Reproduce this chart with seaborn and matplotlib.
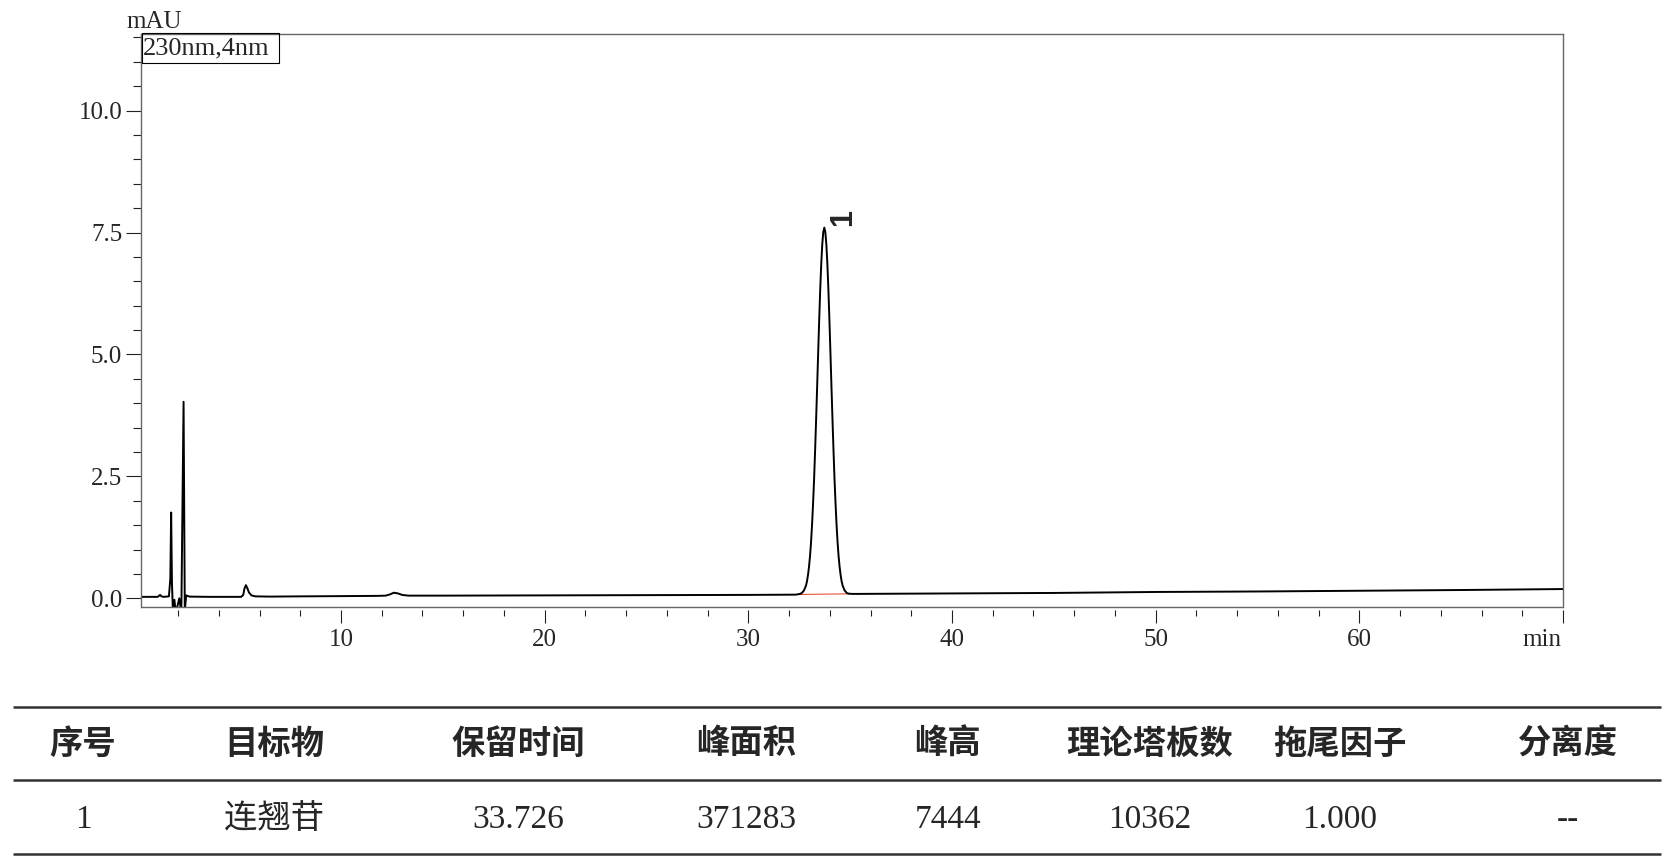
import numpy as np
import pandas as pd
import matplotlib
matplotlib.use('Agg')
import matplotlib.pyplot as plt
from matplotlib.ticker import FixedLocator, MultipleLocator
from matplotlib.patches import Rectangle
import seaborn as sns

# 色谱图 (时间 min, 吸光度 mAU) - 从图上读取
early_t = [0.17, 1.00, 1.06, 1.12, 1.18, 1.30, 1.55, 1.62, 1.66, 1.70, 1.75, 1.82, 1.89,
           2.06, 2.16, 2.27, 2.33, 2.40, 2.46, 2.56, 3.50, 4.50]
early_v = [0.03, 0.03, 0.05, 0.07, 0.04, 0.03, 0.04, 0.40, 1.76, 0.30, -0.30, -0.03, -0.30,
           0.00, -0.30, 4.03, -0.25, 0.06, 0.05, 0.035, 0.03, 0.03]

mid_t = [5.10, 5.20, 5.26, 5.33, 5.40, 5.48, 5.60, 5.80, 6.50, 8.00, 10.0, 11.8,
         12.2, 12.4, 12.6, 12.8, 13.0, 13.3, 15.0, 20.0, 25.0, 30.0]
mid_v = [0.03, 0.07, 0.20, 0.27, 0.21, 0.12, 0.06, 0.04, 0.035, 0.04, 0.045, 0.05,
         0.055, 0.08, 0.115, 0.10, 0.07, 0.055, 0.055, 0.06, 0.065, 0.07]

peak_t = [32.33, 32.53, 32.63, 32.73, 32.83, 32.88, 32.93, 32.98, 33.03, 33.08, 33.13, 33.18,
          33.23, 33.28, 33.33, 33.38, 33.43, 33.48, 33.53, 33.58, 33.63, 33.68, 33.73,
          33.78, 33.83, 33.88, 33.93, 33.98, 34.03, 34.08, 34.13, 34.18, 34.23, 34.28,
          34.33, 34.38, 34.43, 34.48, 34.53, 34.58, 34.63, 34.73, 34.83, 34.93, 35.13]
peak_v = [0.075, 0.09, 0.11, 0.16, 0.26, 0.35, 0.48, 0.65, 0.87, 1.16, 1.52, 1.96,
          2.46, 3.05, 3.69, 4.36, 5.05, 5.72, 6.34, 6.86, 7.26, 7.51, 7.60,
          7.51, 7.26, 6.86, 6.34, 5.72, 5.05, 4.36, 3.69, 3.05, 2.46, 1.96,
          1.52, 1.16, 0.87, 0.65, 0.48, 0.35, 0.26, 0.16, 0.11, 0.095, 0.09]

late_t = [40.0, 45.0, 50.0, 55.0, 60.0, 65.0, 70.0]
late_v = [0.10, 0.11, 0.13, 0.14, 0.155, 0.17, 0.19]

# 积分基线
base_t = [32.45, 34.95]
base_v = [0.078, 0.092]

peak_no = ['1']
peak_rt = [33.726]

# 结果表
headers = ['序号', '目标物', '保留时间', '峰面积', '峰高', '理论塔板数', '拖尾因子', '分离度']
row1 = ['1', '连翘苷', '33.726', '371283', '7444', '10362', '1.000', '--']

sns.set_theme(style='ticks')
plt.rcParams['font.family'] = ['Liberation Serif', 'Noto Sans CJK SC', 'DejaVu Sans']
plt.rcParams['axes.unicode_minus'] = False

W, H = 1674, 864
fig = plt.figure(figsize=(W / 100, H / 100), dpi=100)

# 表格区 (像素坐标)
ax_t = fig.add_axes([0, 0, 1, 1])
ax_t.set_xlim(0, W)
ax_t.set_ylim(H, 0)
ax_t.axis('off')

# 色谱图
ax = fig.add_axes([140.7 / W, 1 - 606.7 / H, (1563 - 140.7) / W, (606.7 - 34) / H])

df = pd.DataFrame({'t': early_t + mid_t + peak_t + late_t,
                   'mAU': early_v + mid_v + peak_v + late_v})
sns.lineplot(data=df, x='t', y='mAU', color='black', lw=1.4, ax=ax,
             estimator=None, sort=False)
ax.plot(base_t, base_v, color='#e8503a', lw=0.8, zorder=1)

for lab, rt in zip(peak_no, peak_rt):
    ax.text(rt + 0.2, 7.8, lab, rotation=90, ha='left', va='center', fontsize=22,
            family='Liberation Sans', fontweight='bold')

ax.set_xlim(0.165, 70)
ax.set_ylim(-0.172, 11.57)
ax.set_xlabel('')
ax.set_ylabel('')

ax.xaxis.set_major_locator(FixedLocator([10, 20, 30, 40, 50, 60, 70]))
ax.set_xticklabels(['10', '20', '30', '40', '50', '60', ''])
ax.xaxis.set_minor_locator(MultipleLocator(2))
ax.yaxis.set_major_locator(FixedLocator([0, 2.5, 5, 7.5, 10]))
ax.set_yticklabels(['0.0', '2.5', '5.0', '7.5', '10.0'])
ax.yaxis.set_minor_locator(MultipleLocator(0.5))

ax.tick_params(axis='x', which='major', length=9.5, width=0.8, pad=4, labelsize=18,
               color='#222222')
ax.tick_params(axis='x', which='minor', length=4.5, width=0.8, color='#222222')
ax.tick_params(axis='y', which='major', length=10.8, width=0.8, pad=2.5, labelsize=18,
               color='#222222')
ax.tick_params(axis='y', which='minor', length=5.8, width=0.8, color='#222222')

# 单位 min 放在最后一个刻度处, 右对齐
ax.annotate('min', xy=(70, 0), xycoords=('data', 'axes fraction'), xytext=(-1, -16),
            textcoords='offset points', ha='right', va='top', fontsize=18)

for s in ['top', 'right', 'left']:
    ax.spines[s].set_visible(True)
    ax.spines[s].set_color('#666666')
    ax.spines[s].set_linewidth(1.0)
ax.spines['bottom'].set_position(('outward', 2.5))
ax.spines['bottom'].set_color('none')
ax.plot([0, 1], [0, 0], transform=ax.transAxes, color='#666666', lw=1.0, clip_on=False)

fig.text(154 / W, 1 - 22 / H, 'mAU', ha='center', va='center', fontsize=18)
fig.patches.append(Rectangle((141.7 / W, 1 - 63.3 / H), 137.3 / W, 30 / H,
                             transform=fig.transFigure, fill=False, ec='black', lw=0.8))
fig.text(142.5 / W, 1 - 48.5 / H, '230nm,4nm', ha='left', va='center', fontsize=19)

# 表格
col_x = [83, 274, 518, 746, 948, 1150, 1340, 1568]
ax_t.hlines([707, 780, 854], 13, 1661, color='#333333', lw=1.8)
for x, h, v in zip(col_x, headers, row1):
    ax_t.text(x, 744, h, ha='center', va='center', fontsize=24,
              family='Noto Sans CJK SC', fontweight='bold')
    ax_t.text(x, 820, v, ha='center', va='center', fontsize=24)

fig.savefig('out.png', dpi=100)
